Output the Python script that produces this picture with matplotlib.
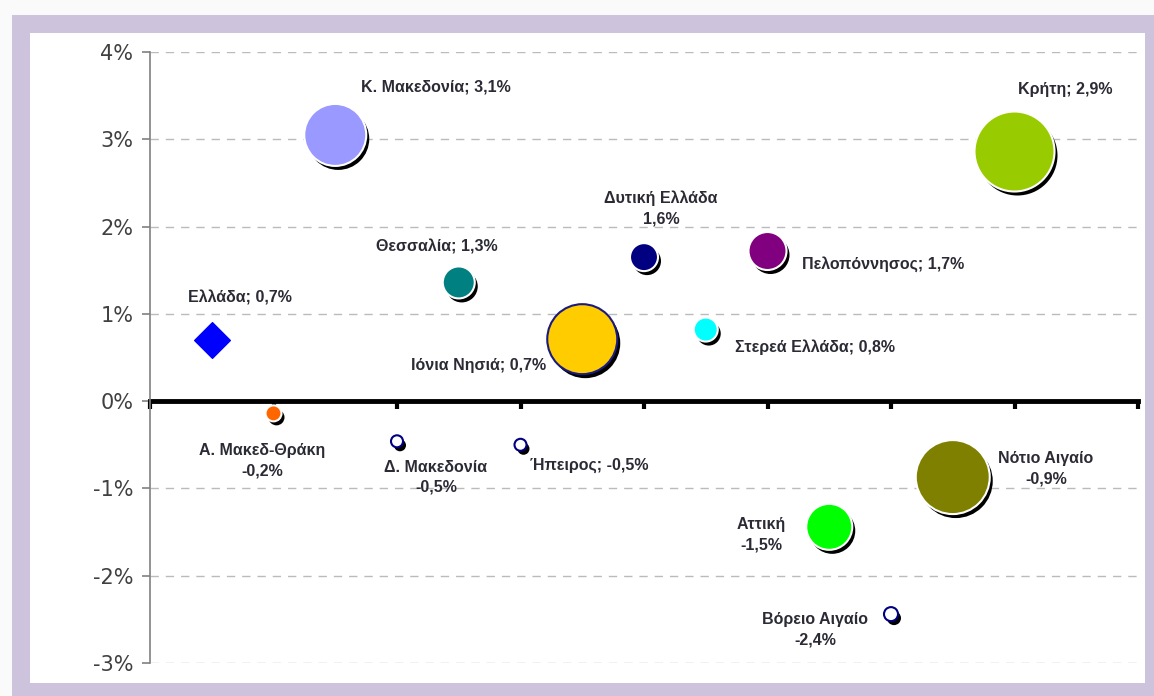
import matplotlib
matplotlib.use("Agg")
import matplotlib.pyplot as plt
from matplotlib.patches import Rectangle
from matplotlib.transforms import offset_copy
from matplotlib.ticker import FuncFormatter

# ---- data ----
regions = ["Κ. Μακεδονία", "Θεσσαλία", "Ιόνια Νησιά", "Δυτική Ελλάδα", "Στερεά Ελλάδα",
           "Πελοπόννησος", "Κρήτη", "Α. Μακεδ-Θράκη", "Δ. Μακεδονία", "Ήπειρος",
           "Αττική", "Νότιο Αιγαίο", "Βόρειο Αιγαίο"]
x_pos = [1.5, 2.5, 3.5, 4.0, 4.5, 5.0, 7.0, 1.0, 2.0, 3.0, 5.5, 6.5, 6.0]
growth = [3.05, 1.36, 0.71, 1.65, 0.82, 1.72, 2.86, -0.14, -0.46, -0.5, -1.44, -0.87, -2.44]
bubble_size = [31, 16, 35, 14, 12, 19, 40, 8, 6, 6, 23, 37, 7]
colors = ["#9999ff", "#008080", "#ffcc00", "#000080", "#00ffff", "#800080", "#99cc00",
          "#ff6600", "#ffffff", "#ffffff", "#00ff00", "#808000", "#ffffff"]
labels = ["Κ. Μακεδονία; 3,1%", "Θεσσαλία; 1,3%", "Ιόνια Νησιά; 0,7%", "Δυτική Ελλάδα\n1,6%",
          "Στερεά Ελλάδα; 0,8%", "Πελοπόννησος; 1,7%", "Κρήτη; 2,9%", "Α. Μακεδ-Θράκη\n-0,2%",
          "Δ. Μακεδονία\n-0,5%", "Ήπειρος; -0,5%", "Αττική\n-1,5%", "Νότιο Αιγαίο\n-0,9%",
          "Βόρειο Αιγαίο\n-2,4%"]
greece_label = "Ελλάδα; 0,7%"
greece_x = 0.5
greece_growth = 0.7
y_ticks = [-3, -2, -1, 0, 1, 2, 3, 4]

# label placement (pixel offsets from bubble centre) and alignment
label_offsets = [(101, 48), (-22, 35), (-36, -26), (17, 49), (29, -18), (35, -13), (51, 62),
                 (-11, -47), (39, -36), (10, -21), (-68, -8), (93, 8), (-76, -16)]
label_ha = ["center", "center", "right", "center", "left", "left", "center",
            "center", "center", "left", "center", "center", "center"]
edge_colors = ["white", "white", "#1a1a80", "white", "white", "white", "white",
               "white", "#000080", "#000080", "white", "white", "#000080"]

W, H = 1154, 696
fig = plt.figure(figsize=(W / 100, H / 100), dpi=100)
fig.patch.set_facecolor("#fafafa")

# frame
fig.patches.append(Rectangle((12 / W, 0), (W - 12) / W, (H - 15) / H, transform=fig.transFigure,
                             facecolor="#cdc3dd", edgecolor="none", zorder=-2))
fig.patches.append(Rectangle((30 / W, (H - 683) / H), (1145 - 30) / W, (683 - 33) / H,
                             transform=fig.transFigure, facecolor="white", edgecolor="none", zorder=-1))

ax = fig.add_axes([150 / W, (H - 663) / H, (1138 - 150) / W, (663 - 52) / H])
ax.set_zorder(1)
ax.set_facecolor("none")
ax.set_xlim(0, 8)
ax.set_ylim(-3, 4)
ax.set_yticks(y_ticks)
ax.yaxis.set_major_formatter(FuncFormatter(lambda v, p: f"{int(v)}%"))
ax.set_xticks(range(0, 9))
ax.set_xticklabels([])
for s in ["top", "right"]:
    ax.spines[s].set_visible(False)
ax.spines["left"].set_color("#808080")
ax.spines["left"].set_linewidth(1.2)
ax.spines["bottom"].set_position(("data", 0))
ax.spines["bottom"].set_linewidth(3.5)
ax.spines["bottom"].set_color("black")
ax.spines["bottom"].set_zorder(2)
ax.tick_params(axis="x", direction="out", length=6, width=3, color="black")
ax.tick_params(axis="y", direction="out", length=6, width=1.2, color="#808080",
               labelsize=15, labelcolor="#404040", pad=6)
ax.grid(axis="y", linestyle=(0, (6, 5)), color="#bbbbbb", linewidth=1)
ax.set_axisbelow(True)

px = 0.72  # points per pixel
sizes = [(2 * r * px) ** 2 for r in bubble_size]
shadow_tr = offset_copy(ax.transData, fig=fig, x=3, y=-4, units="dots")
ax.scatter(x_pos, growth, s=sizes, color="black", transform=shadow_tr, zorder=3, linewidths=0)
ax.scatter(x_pos, growth, s=sizes, c=colors, edgecolors=edge_colors, linewidths=1.5, zorder=4)

ax.scatter([greece_x], [greece_growth], marker="D", s=330, color="#0000ff", zorder=4)

lab_font = dict(family="Liberation Sans", fontsize=11.5, fontweight="bold", color="#2b2b35")
for xi, yi, lab, off, ha in zip(x_pos, growth, labels, label_offsets, label_ha):
    ax.annotate(lab, (xi, yi), xytext=off, textcoords="offset pixels", ha=ha, va="center",
                multialignment="center", linespacing=1.45, zorder=5, **lab_font)
ax.annotate(greece_label, (greece_x, greece_growth), xytext=(28, 42), textcoords="offset pixels",
            ha="center", va="center", zorder=5, **lab_font)

fig.savefig("out.png", dpi=100, facecolor=fig.get_facecolor())
